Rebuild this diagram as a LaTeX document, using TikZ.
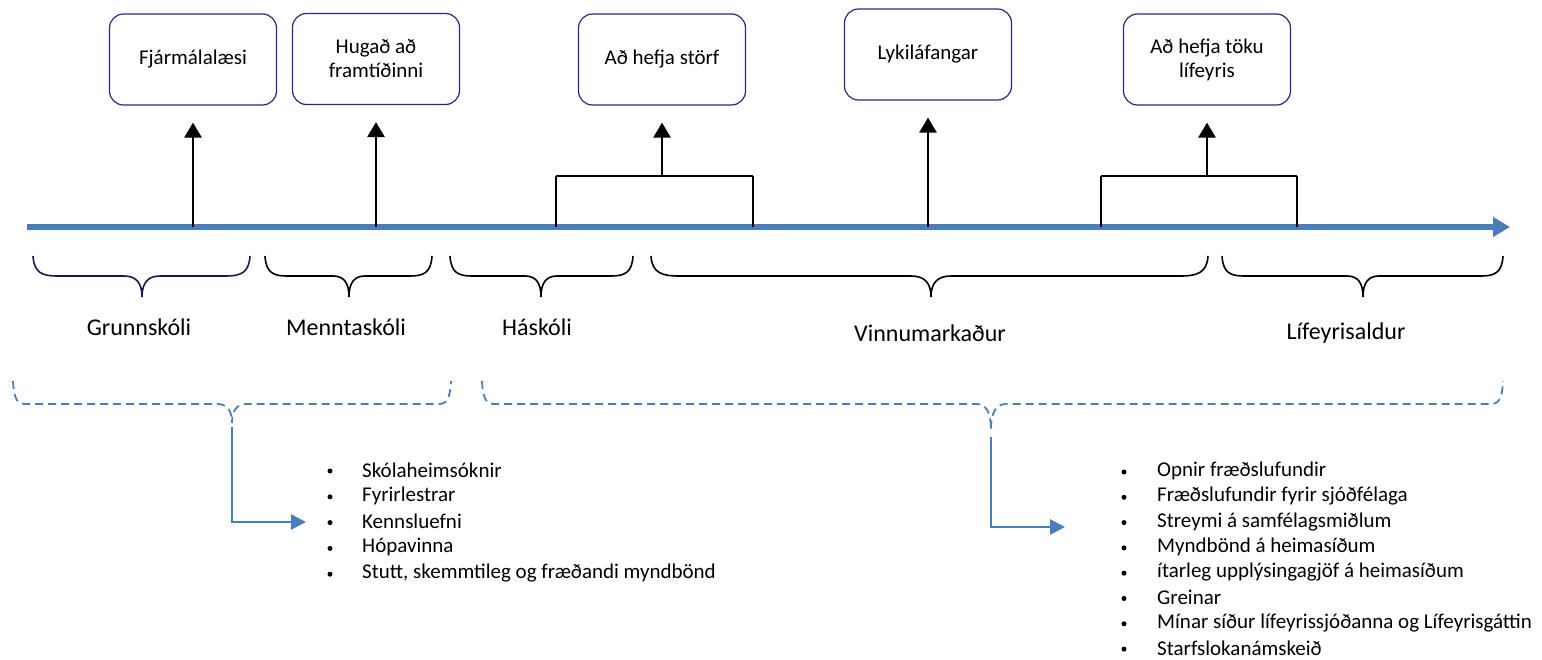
\documentclass[tikz,border=0pt]{standalone}
\usepackage{fontspec}
\setmainfont{Carlito}
\usetikzlibrary{arrows.meta}
\definecolor{tlblue}{RGB}{74,126,187}
\definecolor{boxnavy}{RGB}{40,40,130}
\definecolor{bracenavy}{RGB}{25,25,75}
% #1 style, #2 x0, #3 xm, #4 x1, #5 ytop, #6 yline, #7 ytip, #8 corner width, #9 tip width
\newcommand{\curlybrace}[9][]{%
  \draw[#1] (#2,#5) .. controls ({#2+1},{#6-3}) and ({#2+0.4*#8},#6) .. ({#2+#8},#6)
    -- ({#3-#9},#6) .. controls ({#3-0.35*#9},#6) and (#3,{#6+0.3*(#7-#6)}) .. (#3,#7)
    .. controls (#3,{#6+0.3*(#7-#6)}) and ({#3+0.35*#9},#6) .. ({#3+#9},#6)
    -- ({#4-#8},#6) .. controls ({#4-0.4*#8},#6) and ({#4-1},{#6-3}) .. (#4,#5);}
\begin{document}
\begin{tikzpicture}[x=1pt,y=-1pt,
  box/.style={draw=boxnavy, line width=1.2pt, rounded corners=14pt, minimum width=167pt,
    minimum height=91pt, align=center, font=\fontsize{21}{24}\selectfont, inner sep=0pt},
  period/.style={font=\fontsize{24}{28}\selectfont, inner sep=0pt},
  item/.style={font=\fontsize{21}{25.5}\selectfont, anchor=west, inner sep=0pt},
  bul/.style={circle, fill=black, inner sep=0pt, minimum size=5pt},
  timeline/.style={tlblue, line width=5.5pt, -{Triangle[length=17pt,width=19pt]}},
  upline/.style={line width=2.6pt, -{Triangle[length=15pt,width=17pt]}, shorten >=17pt},
  thickleg/.style={line width=2.6pt},
  bracket/.style={line width=2.1pt},
  thinleg/.style={line width=1.6pt},
  brace/.style={line width=1.6pt},
  dbrace/.style={tlblue, line width=1.8pt, dash pattern=on 8pt off 5pt},
  feed/.style={tlblue, line width=2.6pt, -{Triangle[length=15pt,width=15pt]}},
]
\useasboundingbox (0,0) rectangle (1542,659);

% timeline
\coordinate (tlstart) at (27,227);
\coordinate (tlend) at (1510,227);
\draw[timeline] (tlstart) -- (tlend);

% milestone boxes
\node[box] (b1) at (193,59.5) {Fjármálalæsi};
\node[box] (b2) at (376,59) {Hugað að\\framtíðinni};
\node[box] (b3) at (662,59.5) {Að hefja störf};
\node[box] (b4) at (928,54.5) {Lykiláfangar};
\node[box] (b5) at (1207,59.5) {Að hefja töku\\lífeyris};

% timeline points
\coordinate (t1) at (193,227);
\coordinate (t2) at (376,227);
\coordinate (t3a) at (556,227);
\coordinate (t3b) at (753,227);
\coordinate (t4) at (928,227);
\coordinate (t5a) at (1101,227);
\coordinate (t5b) at (1297,227);
\coordinate (j3) at (662,176);
\coordinate (j5) at (1207,176);

\draw[upline] (t1) -- (t1 |- b1.south);
\draw[upline] (t2) -- (t2 |- b2.south);
\draw[upline] (t4) -- (t4 |- b4.south);

\draw[thickleg] (t3a) -- (t3a |- j3);
\draw[bracket] (t3a |- j3) -- (t3b |- j3);
\draw[thinleg] (t3b |- j3) -- (t3b);
\draw[upline] (j3) -- (j3 |- b3.south);

\draw[thickleg] (t5a) -- (t5a |- j5);
\draw[bracket] (t5a |- j5) -- (t5b |- j5);
\draw[thinleg] (t5b |- j5) -- (t5b);
\draw[upline] (j5) -- (j5 |- b5.south);

% period braces
\curlybrace[brace, bracenavy]{33}{142}{250}{256}{276}{297}{24}{18}
\curlybrace[brace]{265}{349}{432}{256}{276}{297}{22}{16}
\curlybrace[brace]{450}{541}{633}{256}{276}{297}{22}{16}
\curlybrace[brace]{651}{931}{1208}{256}{276}{297}{28}{20}
\curlybrace[brace]{1222}{1363}{1503}{256}{276}{297}{22}{16}

\node[period] (p1) at (139,327) {Grunnskóli};
\node[period] (p2) at (346,327) {Menntaskóli};
\node[period] (p3) at (537,327) {Háskóli};
\node[period] (p4) at (930,333) {Vinnumarkaður};
\node[period] (p5) at (1346,333) {Lífeyrisaldur};

% dashed group braces
\curlybrace[dbrace]{13}{232}{451}{381}{404}{423}{13}{15}
\curlybrace[dbrace]{482}{991}{1503}{381}{404}{430}{13}{15}

\coordinate (g1) at (232,427);
\coordinate (g1c) at (232,522);
\coordinate (g1e) at (306,522);
\coordinate (g2) at (991,437);
\coordinate (g2c) at (991,527);
\coordinate (g2e) at (1065,527);
\draw[feed] (g1) -- (g1c) -- (g1e);
\draw[feed] (g2) -- (g2c) -- (g2e);

% left list
\foreach \t [count=\i] in {Skólaheimsóknir, Fyrirlestrar, Kennsluefni, Hópavinna,
  {Stutt, skemmtileg og fræðandi myndbönd}} {
  \node[bul] (lb\i) at (330,{471+25.8*(\i-1)}) {};
  \node[item] (li\i) at (362,{470+25.8*(\i-1)}) {\t};
}
% right list
\foreach \t [count=\i] in {Opnir fræðslufundir, Fræðslufundir fyrir sjóðfélaga,
  Streymi á samfélagsmiðlum, Myndbönd á heimasíðum, ítarleg upplýsingagjöf á heimasíðum,
  Greinar, Mínar síður lífeyrissjóðanna og Lífeyrisgáttin, Starfslokanámskeið} {
  \node[bul] (rb\i) at (1124,{472+25.3*(\i-1)}) {};
  \node[item] (ri\i) at (1157,{471+25.3*(\i-1)}) {\t};
}
\end{tikzpicture}
\end{document}
